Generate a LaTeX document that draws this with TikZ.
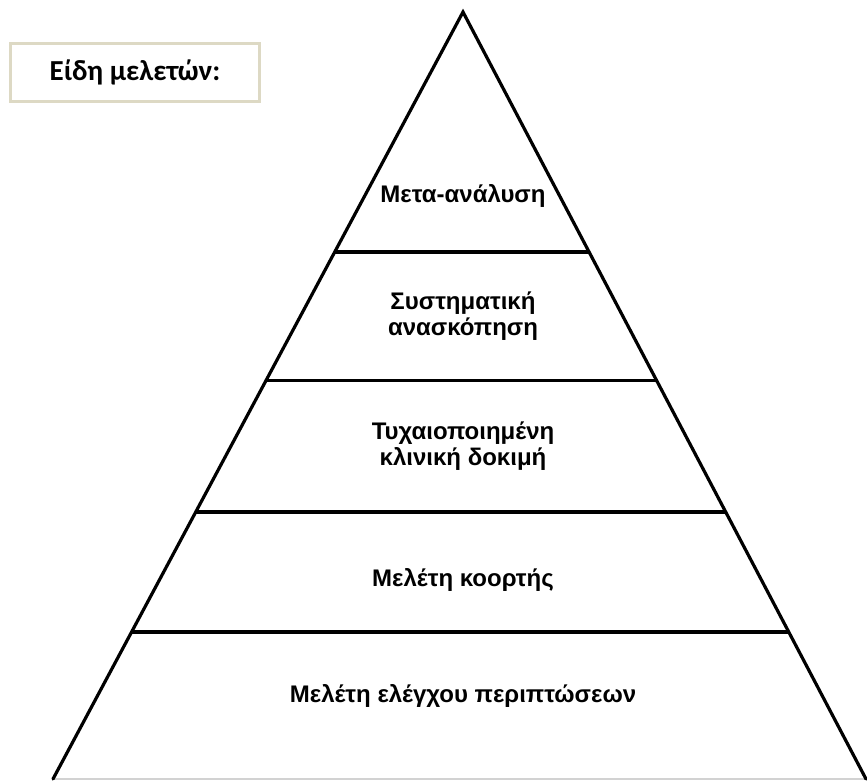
\documentclass[tikz,border=0pt]{standalone}
\usepackage{fontspec}
\setmainfont{Liberation Sans}
\newfontfamily\titlefont{Carlito}
\usepackage{tikz}
\usetikzlibrary{calc, positioning}

\definecolor{boxbeige}{RGB}{221,217,196}

\tikzset{
    levellabel/.style={font=\fontsize{24}{26}\selectfont\bfseries, align=center, text=black},
    sideline/.style={line width=3.2pt, line cap=round, line join=miter},
}

\begin{document}
\begin{tikzpicture}[x=1pt, y=-1pt]

    \useasboundingbox (0,0) rectangle (867,780);

    % Sommets de la pyramide
    \coordinate (apex) at (463,12);
    \coordinate (bl) at (53,779);
    \coordinate (br) at (866,779);

    % Base (claire) et cotes
    \draw[gray!35, line width=1.5pt] (bl) -- (br);
    \draw[sideline] (bl) -- (apex) -- (br);

    % Separations horizontales (fraction de la hauteur depuis la base)
    \foreach \t in {0.687, 0.520, 0.348, 0.1917} {
        \draw[line width=3.2pt] ($(bl)!\t!(apex)$) -- ($(br)!\t!(apex)$);
    }

    % Niveaux
    \node[levellabel] (meta) at (463,196) {Μετα-ανάλυση};
    \node[levellabel] (sys) at (463,316) {Συστηματική\\ανασκόπηση};
    \node[levellabel] (rct) at (463,446) {Τυχαιοποιημένη\\κλινική δοκιμή};
    \node[levellabel] (coh) at (463,580) {Μελέτη κοορτής};
    \node[levellabel] (cc) at (463,696) {Μελέτη ελέγχου περιπτώσεων};

    % Titre
    \node[draw=boxbeige, line width=3pt, minimum width=249pt, minimum height=58pt,
          font=\titlefont\fontsize{29}{32}\selectfont\bfseries] (title) at (135,72) {Είδη μελετών:};

\end{tikzpicture}
\end{document}
